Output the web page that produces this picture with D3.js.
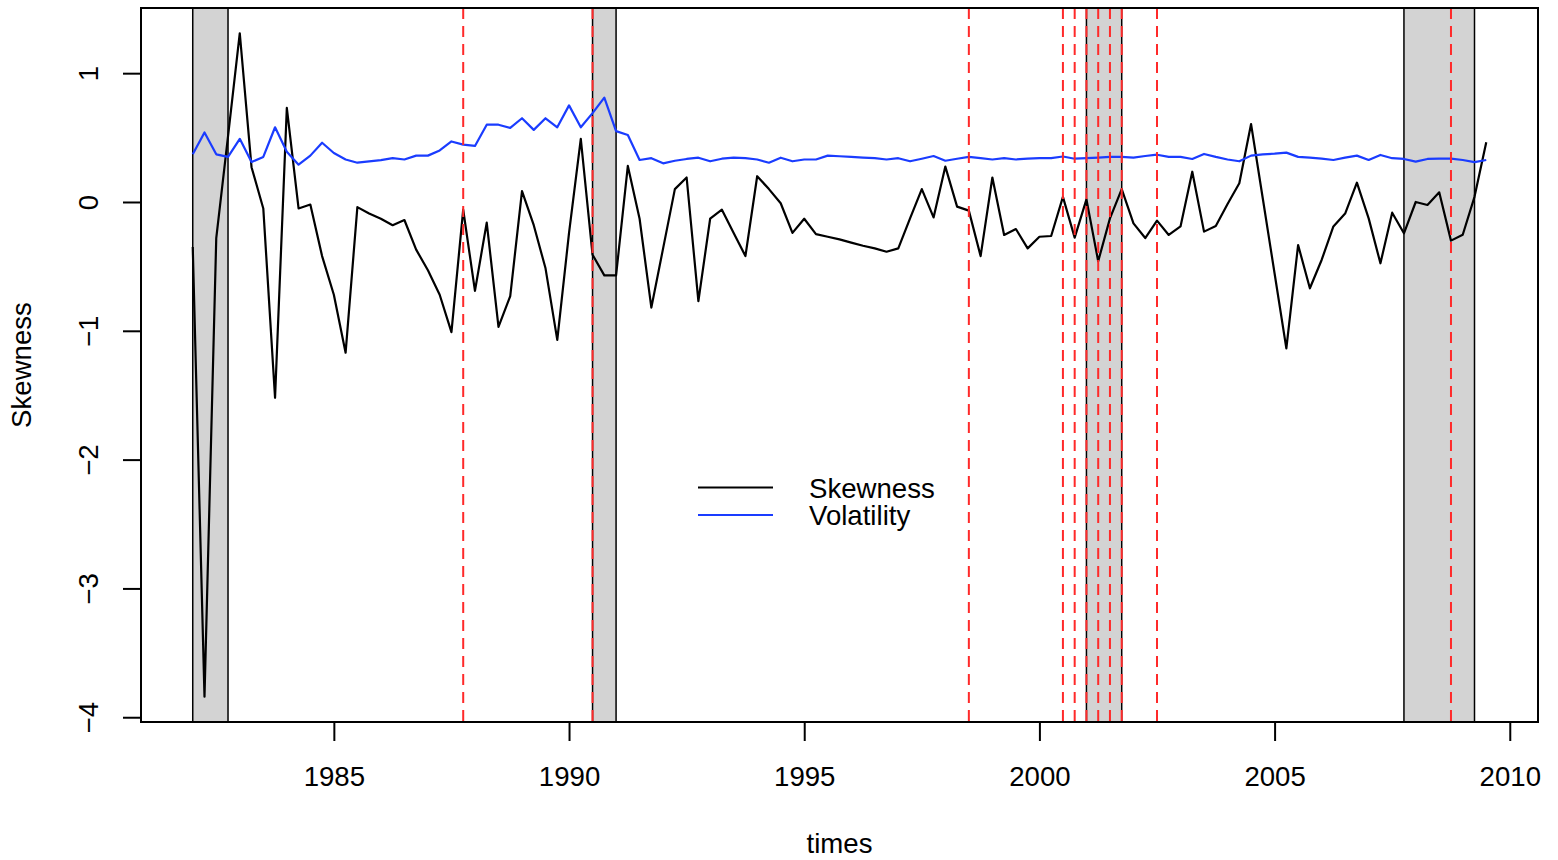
<!DOCTYPE html>
<html>
<head>
<meta charset="utf-8">
<script src="https://cdn.jsdelivr.net/npm/d3@7"></script>
<style>
  html, body { margin: 0; padding: 0; background: #fff; }
  svg { display: block; font-family: "Liberation Sans", Arial, Helvetica, sans-serif; }
</style>
</head>
<body>
<svg id="chart" width="1558" height="860"></svg>
<script>
// Quarterly series, first observation 1982 Q1
const startYear = 1982;
const nObs = 111;

const skewness = [
  -0.35, -3.84, -0.28, 0.51, 1.31, 0.27, -0.05, -1.52, 0.73, -0.05,
  -0.02, -0.42, -0.72, -1.17, -0.04, -0.09, -0.13, -0.18, -0.14, -0.37,
  -0.53, -0.72, -1.01, -0.06, -0.69, -0.16, -0.97, -0.73, 0.085, -0.18,
  -0.515, -1.07, -0.24, 0.49, -0.41, -0.57, -0.57, 0.28, -0.13, -0.82,
  -0.36, 0.10, 0.19, -0.77, -0.13, -0.06, -0.24, -0.42, 0.20, 0.10,
  -0.01, -0.24, -0.13, -0.25, -0.27, -0.29, -0.315, -0.34, -0.36, -0.386,
  -0.36, -0.127, 0.10, -0.12, 0.275, -0.036, -0.067, -0.42, 0.19, -0.256,
  -0.21, -0.36, -0.27, -0.264, 0.04, -0.277, 0.02, -0.46, -0.127, 0.10,
  -0.166, -0.28, -0.145, -0.256, -0.19, 0.235, -0.23, -0.186, -0.016, 0.145,
  0.605, 0.025, -0.555, -1.136, -0.334, -0.67, -0.45, -0.19, -0.09, 0.15,
  -0.127, -0.476, -0.083, -0.243, 0.0, -0.023, 0.075, -0.30, -0.254, 0.04,
  0.463
];

const volatility = [
  0.37, 0.54, 0.37, 0.35, 0.49, 0.31, 0.35, 0.58, 0.39, 0.29,
  0.36, 0.46, 0.38, 0.33, 0.305, 0.315, 0.325, 0.34, 0.33, 0.36,
  0.36, 0.40, 0.47, 0.445, 0.435, 0.60, 0.60, 0.575, 0.65, 0.56,
  0.65, 0.58, 0.75, 0.58, 0.69, 0.81, 0.55, 0.52, 0.326, 0.34,
  0.30, 0.32, 0.334, 0.344, 0.316, 0.336, 0.344, 0.34, 0.33, 0.305,
  0.344, 0.316, 0.33, 0.33, 0.36, 0.355, 0.35, 0.345, 0.34, 0.33,
  0.34, 0.316, 0.336, 0.357, 0.32, 0.336, 0.35, 0.34, 0.33, 0.34,
  0.33, 0.336, 0.34, 0.34, 0.353, 0.336, 0.34, 0.344, 0.35, 0.35,
  0.344, 0.357, 0.367, 0.35, 0.35, 0.334, 0.373, 0.35, 0.33, 0.316,
  0.36, 0.37, 0.375, 0.383, 0.35, 0.345, 0.336, 0.326, 0.344, 0.36,
  0.326, 0.365, 0.34, 0.334, 0.313, 0.334, 0.336, 0.336, 0.326, 0.31,
  0.326
];

// Recession periods (shaded) and event dates (dashed verticals)
const recessionStart = [1982.0, 1990.5, 2001.0, 2007.75];
const recessionEnd   = [1982.75, 1991.0, 2001.75, 2009.25];
const eventDates = [1987.75, 1990.5, 1998.5, 2000.5, 2000.75, 2001.0,
                    2001.25, 2001.5, 2001.75, 2002.5, 2008.75];

const xTicks = [1985, 1990, 1995, 2000, 2005, 2010];
const yTicks = [-4, -3, -2, -1, 0, 1];
const seriesNames = ["Skewness", "Volatility"];
const seriesColors = ["#000000", "#1a3cff"];

const times = d3.range(nObs).map(i => startYear + i / 4);

const plotLeft = 141, plotRight = 1538, plotTop = 8, plotBottom = 722;
const fontSize = 27.6;

const svg = d3.select("#chart");

const x = d3.scaleLinear().domain([1980.9, 2010.6]).range([plotLeft, plotRight]);
const y = d3.scaleLinear().domain([-4.037, 1.506]).range([plotBottom, plotTop]);

// shaded recession bands
const bands = recessionStart.map((s, i) => ({ s, e: recessionEnd[i] }));
svg.append("g").selectAll("rect").data(bands).join("rect")
  .attr("x", d => x(d.s))
  .attr("y", plotTop)
  .attr("width", d => x(d.e) - x(d.s))
  .attr("height", plotBottom - plotTop)
  .attr("fill", "#d3d3d3")
  .attr("stroke", "#000")
  .attr("stroke-width", 1.5);

// series lines
const seriesPath = vals => d3.line()
  .x((d, i) => x(times[i]))
  .y(d => y(d))(vals);

svg.append("path")
  .attr("d", seriesPath(skewness))
  .attr("fill", "none")
  .attr("stroke", seriesColors[0])
  .attr("stroke-width", 2.2)
  .attr("stroke-linejoin", "round");

svg.append("path")
  .attr("d", seriesPath(volatility))
  .attr("fill", "none")
  .attr("stroke", seriesColors[1])
  .attr("stroke-width", 2.2)
  .attr("stroke-linejoin", "round");

// event markers
svg.append("g").selectAll("line").data(eventDates).join("line")
  .attr("x1", d => x(d)).attr("x2", d => x(d))
  .attr("y1", plotTop).attr("y2", plotBottom)
  .attr("stroke", "#ff2a2a")
  .attr("stroke-width", 2)
  .attr("stroke-dasharray", "11,7");

// plot frame
svg.append("rect")
  .attr("x", plotLeft).attr("y", plotTop)
  .attr("width", plotRight - plotLeft).attr("height", plotBottom - plotTop)
  .attr("fill", "none")
  .attr("stroke", "#000")
  .attr("stroke-width", 2);

// x axis
const gx = svg.append("g")
  .attr("transform", `translate(0,${plotBottom})`)
  .call(d3.axisBottom(x).tickValues(xTicks).tickFormat(d3.format("d")).tickSize(19).tickSizeOuter(0));
gx.select(".domain").remove();
gx.selectAll(".tick line").attr("stroke", "#000").attr("stroke-width", 2);
gx.selectAll(".tick text")
  .attr("y", 64).attr("dy", null)
  .attr("fill", "#000")
  .style("font-size", fontSize + "px")
  .style("font-family", "Liberation Sans, Arial, sans-serif");

// y axis
const gy = svg.append("g")
  .attr("transform", `translate(${plotLeft},0)`)
  .call(d3.axisLeft(y).tickValues(yTicks).tickFormat(d3.format("d")).tickSize(18).tickSizeOuter(0));
gy.select(".domain").remove();
gy.selectAll(".tick line").attr("stroke", "#000").attr("stroke-width", 2);
gy.selectAll(".tick text")
  .attr("x", 0).attr("dy", null)
  .attr("text-anchor", "middle")
  .attr("transform", `translate(${98 - plotLeft},0) rotate(-90)`)
  .attr("fill", "#000")
  .style("font-size", fontSize + "px")
  .style("font-family", "Liberation Sans, Arial, sans-serif");

// axis titles
svg.append("text")
  .attr("x", (plotLeft + plotRight) / 2).attr("y", 853)
  .attr("text-anchor", "middle")
  .style("font-size", fontSize + "px")
  .text("times");

svg.append("text")
  .attr("transform", `translate(31,${(plotTop + plotBottom) / 2}) rotate(-90)`)
  .attr("text-anchor", "middle")
  .style("font-size", fontSize + "px")
  .text("Skewness");

// legend
const legendY = [487.5, 515];
const legend = svg.append("g");
seriesNames.forEach((name, i) => {
  legend.append("line")
    .attr("x1", 698).attr("x2", 773)
    .attr("y1", legendY[i]).attr("y2", legendY[i])
    .attr("stroke", seriesColors[i]).attr("stroke-width", 2);
  legend.append("text")
    .attr("x", 809).attr("y", legendY[i] + 10)
    .style("font-size", fontSize + "px")
    .text(name);
});
</script>
</body>
</html>
